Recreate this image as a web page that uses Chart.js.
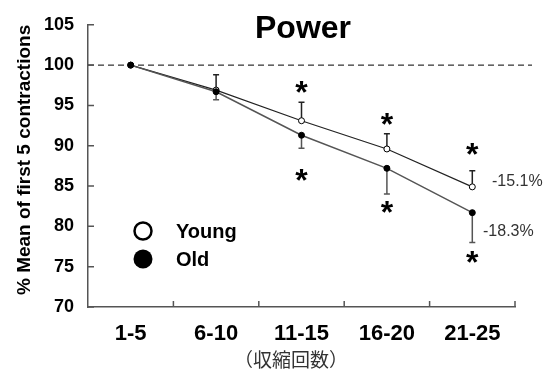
<!DOCTYPE html>
<html>
<head>
<meta charset="utf-8">
<script src="https://cdn.jsdelivr.net/npm/chart.js@4.4.0/dist/chart.umd.min.js"></script>
<style>
  body { margin: 0; background: #fff; }
  #wrap { width: 548px; height: 369px; position: relative; }
</style>
</head>
<body>
<div id="wrap"><canvas id="powerChart"></canvas></div>
<script>
const categories = ['1-5', '6-10', '11-15', '16-20', '21-25']
const youngValues = [100, 96.9, 93.1, 89.6, 84.9]
const oldValues = [100, 96.7, 91.3, 87.2, 81.7]
const youngErrors = [0, 1.9, 2.3, 1.9, 2.0]
const oldErrors = [0, 1.0, 1.6, 3.2, 3.7]
const yTicks = [70, 75, 80, 85, 90, 95, 100, 105]
const starAbove = [null, null, 97.5, 93.6, 89.8]
const starBelow = [null, null, 86.6, 82.7, 76.5]
const endLabels = ['-15.1%', '-18.3%']
const legendLabels = ['Young', 'Old']

const FONT = '"Liberation Sans", Arial, sans-serif'

// Everything not handled by Chart.js itself: titles, legend, error bars, stars
const extras = {
    id: 'extras',
    beforeDatasetsDraw(chart) {
        const ctx = chart.ctx
        const x = chart.scales.x
        const y = chart.scales.y
        const area = chart.chartArea

        // dashed baseline at 100
        ctx.save()
        ctx.strokeStyle = '#000'
        ctx.lineWidth = 1
        ctx.setLineDash([6, 4])
        ctx.beginPath()
        ctx.moveTo(area.left, y.getPixelForValue(100))
        ctx.lineTo(532, y.getPixelForValue(100))
        ctx.stroke()
        ctx.restore()

        // error bars
        function bar(vals, errs, dir, color) {
            ctx.save()
            ctx.strokeStyle = color
            ctx.lineWidth = 1.5
            for (let i = 0; i < vals.length; i++) {
                if (!errs[i]) continue
                const px = x.getPixelForValue(i)
                const p0 = y.getPixelForValue(vals[i])
                const p1 = y.getPixelForValue(vals[i] + dir * errs[i])
                ctx.beginPath()
                ctx.moveTo(px, p0)
                ctx.lineTo(px, p1)
                ctx.moveTo(px - 3, p1)
                ctx.lineTo(px + 3, p1)
                ctx.stroke()
            }
            ctx.restore()
        }
        bar(youngValues, youngErrors, 1, '#222')
        bar(oldValues, oldErrors, -1, '#555')
    },
    afterDraw(chart) {
        const ctx = chart.ctx
        const x = chart.scales.x
        const y = chart.scales.y
        const area = chart.chartArea

        ctx.save()
        // inner tick marks
        ctx.strokeStyle = '#555'
        ctx.lineWidth = 1.5
        ctx.beginPath()
        yTicks.forEach(v => {
            const py = y.getPixelForValue(v)
            ctx.moveTo(area.left, py)
            ctx.lineTo(area.left + 6, py)
        })
        for (let i = 0; i < categories.length; i++) {
            const px = i < categories.length - 1
                ? (x.getPixelForValue(i) + x.getPixelForValue(i + 1)) / 2
                : area.right
            ctx.moveTo(px, area.bottom)
            ctx.lineTo(px, area.bottom - 6)
        }
        ctx.stroke()

        // title
        ctx.fillStyle = '#000'
        ctx.textAlign = 'center'
        ctx.textBaseline = 'alphabetic'
        ctx.font = 'bold 32px ' + FONT
        ctx.fillText('Power', 303, 38)

        // y axis title
        ctx.save()
        ctx.translate(25, (area.top + area.bottom) / 2 - 6)
        ctx.rotate(-Math.PI / 2)
        ctx.font = 'bold 19px ' + FONT
        ctx.textBaseline = 'middle'
        ctx.fillText('% Mean of first 5 contractions', 0, 0)
        ctx.restore()

        // x axis title
        ctx.font = '19px "Noto Sans CJK JP", sans-serif'
        ctx.fillStyle = '#333'
        ctx.textBaseline = 'middle'
        ctx.fillText('（収縮回数）', 291, 360)

        // asterisks
        ctx.fillStyle = '#000'
        ctx.font = 'bold 32px ' + FONT
        ctx.textBaseline = 'alphabetic'
        for (let i = 0; i < categories.length; i++) {
            const px = x.getPixelForValue(i)
            if (starAbove[i] !== null) ctx.fillText('*', px, y.getPixelForValue(starAbove[i]) + 18)
            if (starBelow[i] !== null) ctx.fillText('*', px, y.getPixelForValue(starBelow[i]) + 18)
        }

        // end labels
        ctx.font = '16px ' + FONT
        ctx.fillStyle = '#333'
        ctx.textAlign = 'left'
        ctx.textBaseline = 'middle'
        const last = categories.length - 1
        ctx.fillText(endLabels[0], 492, y.getPixelForValue(youngValues[last]) - 5)
        ctx.fillText(endLabels[1], 483, y.getPixelForValue(oldValues[last]) + 19)

        // legend
        ctx.lineWidth = 2.5
        ctx.strokeStyle = '#000'
        ctx.fillStyle = '#fff'
        ctx.beginPath()
        ctx.arc(143, 231, 8.5, 0, Math.PI * 2)
        ctx.fill()
        ctx.stroke()
        ctx.fillStyle = '#000'
        ctx.beginPath()
        ctx.arc(143, 259, 9.5, 0, Math.PI * 2)
        ctx.fill()
        ctx.font = 'bold 20px ' + FONT
        ctx.fillText(legendLabels[0], 176, 232)
        ctx.fillText(legendLabels[1], 176, 260)
        ctx.restore()
    }
}

const data = {
    labels: categories,
    datasets: [
        {
            label: 'Old',
            data: oldValues,
            borderColor: '#555',
            borderWidth: 1.5,
            pointRadius: 3,
            pointBackgroundColor: '#000',
            pointBorderColor: '#000',
            pointBorderWidth: 1
        },
        {
            label: 'Young',
            data: youngValues,
            borderColor: '#222',
            borderWidth: 1.2,
            pointRadius: 3,
            pointBackgroundColor: '#fff',
            pointBorderColor: '#000',
            pointBorderWidth: 1
        }
    ]
}

const config = {
    type: 'line',
    data,
    options: {
        responsive: true,
        maintainAspectRatio: false,
        animation: false,
        layout: { padding: { top: 24, right: 33, left: 0, bottom: 0 } },
        plugins: {
            legend: { display: false },
            title: { display: false },
            tooltip: { enabled: false }
        },
        scales: {
            x: {
                offset: true,
                grid: { display: false, drawTicks: false },
                border: { display: true, color: '#555', width: 1.5 },
                ticks: {
                    color: '#000',
                    font: { family: FONT, size: 22, weight: 'bold' },
                    padding: 14,
                    maxRotation: 0,
                    autoSkip: false
                },
                afterFit: scale => { scale.height = 62 }
            },
            y: {
                min: 70,
                max: 105,
                grid: { display: false, drawTicks: false },
                border: { display: true, color: '#555', width: 1.5 },
                ticks: {
                    stepSize: 5,
                    color: '#000',
                    font: { family: FONT, size: 18, weight: 'bold' },
                    padding: 14
                },
                afterFit: scale => { scale.width = 88 }
            }
        }
    },
    plugins: [extras]
}

const powerChart = new Chart(document.getElementById('powerChart'), config)
</script>
</body>
</html>
